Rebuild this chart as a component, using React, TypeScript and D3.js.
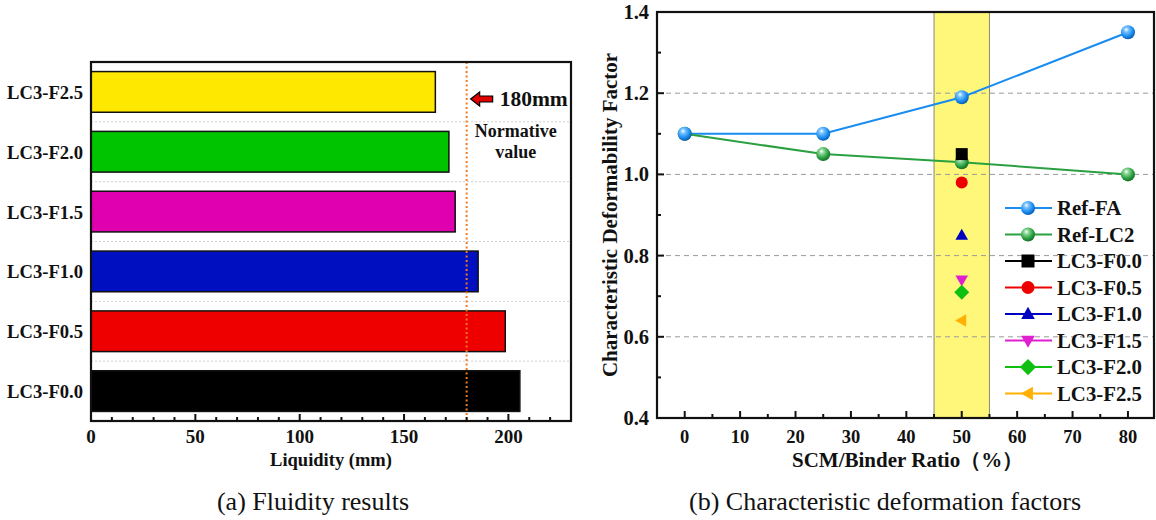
import React from "react";
import * as d3 from "d3";

// ---------- Data: panel (a) ----------
const barCategories = ["LC3-F2.5", "LC3-F2.0", "LC3-F1.5", "LC3-F1.0", "LC3-F0.5", "LC3-F0.0"];
const barValues = [165, 171.5, 174.5, 185.5, 198.5, 205.5];
const barColors = ["#FFE800", "#00C400", "#E000B0", "#0010C0", "#EE0000", "#000000"];
const normativeValue = 180;
const barTicks = [0, 50, 100, 150, 200];

// ---------- Data: panel (b) ----------
const ratioX = [0, 25, 50, 80];
const refFA = [1.1, 1.1, 1.19, 1.35];
const refLC2 = [1.1, 1.05, 1.03, 1.0];
const lc3Names = ["LC3-F0.0", "LC3-F0.5", "LC3-F1.0", "LC3-F1.5", "LC3-F2.0", "LC3-F2.5"];
const lc3Values = [1.05, 0.98, 0.85, 0.74, 0.71, 0.64];
const lc3Colors = ["#000000", "#EE0000", "#0000C0", "#E020D0", "#10C010", "#FFB000"];
const lc3Shapes = ["square", "circle", "triangle", "triangleDown", "diamond", "triangleLeft"];
const lc3Ratio = 50;
const xTicksB = [0, 10, 20, 30, 40, 50, 60, 70, 80];
const yTicksB = [0.4, 0.6, 0.8, 1.0, 1.2, 1.4];

const FONT = "'Liberation Serif', 'Times New Roman', serif";

function markerPath(shape: string, r: number): string {
  switch (shape) {
    case "square":
      return `M${-r},${-r}H${r}V${r}H${-r}Z`;
    case "triangle":
      return `M0,${-r * 1.1}L${r * 1.05},${r * 0.75}L${-r * 1.05},${r * 0.75}Z`;
    case "triangleDown":
      return `M0,${r * 1.1}L${r * 1.05},${-r * 0.75}L${-r * 1.05},${-r * 0.75}Z`;
    case "triangleLeft":
      return `M${-r * 1.1},0L${r * 0.75},${-r * 1.05}L${r * 0.75},${r * 1.05}Z`;
    case "diamond":
      return `M0,${-r * 1.25}L${r * 1.25},0L0,${r * 1.25}L${-r * 1.25},0Z`;
    default:
      return "";
  }
}

function Marker({ shape, color, x, y, r }: { shape: string; color: string; x: number; y: number; r: number }) {
  if (shape === "circle") return <circle cx={x} cy={y} r={r} fill={color} />;
  return <path d={markerPath(shape, r)} transform={`translate(${x},${y})`} fill={color} />;
}

function PanelA() {
  const left = 91, right = 571, top = 62, bottom = 421;
  const x = d3.scaleLinear().domain([0, 230]).range([left, right]);
  const y = d3.scaleBand().domain(barCategories).range([top, bottom]).paddingInner(0.32).paddingOuter(0.16);
  const step = y.step();
  const minorTicks = d3.range(0, 230, 10).filter((v) => v % 50 !== 0);
  const boundaries = barCategories.slice(1).map((c) => (y(c) as number) - (step - y.bandwidth()) / 2);
  const nx = x(normativeValue);
  const arrowY = 99;
  return (
    <g>
      {boundaries.map((b, i) => (
        <line key={i} x1={left} x2={right} y1={b} y2={b} stroke="#d0d0d0" strokeWidth={1} strokeDasharray="2,2" />
      ))}
      {barCategories.map((c, i) => (
        <rect key={c} x={x(0)} y={y(c)} width={x(barValues[i]) - x(0)} height={y.bandwidth()} fill={barColors[i]} stroke="#111" strokeWidth={1.5} />
      ))}
      <line x1={nx} x2={nx} y1={top} y2={bottom} stroke="#F07A20" strokeWidth={2} strokeDasharray="2,2.5" />
      {/* arrow */}
      <path
        d={`M${nx + 4},${arrowY}l9,-7v4h13v6h-13v4z`}
        fill="#E00000"
        stroke="#000"
        strokeWidth={1.2}
      />
      <text x={nx + 33} y={106} fontFamily={FONT} fontWeight="bold" fontSize={21.5} fill="#111">180mm</text>
      <text x={nx + 49} y={137} fontFamily={FONT} fontWeight="bold" fontSize={18} textAnchor="middle" fill="#111">Normative</text>
      <text x={nx + 49} y={158} fontFamily={FONT} fontWeight="bold" fontSize={18} textAnchor="middle" fill="#111">value</text>
      <rect x={left} y={top} width={right - left} height={bottom - top} fill="none" stroke="#111" strokeWidth={2.2} />
      {barTicks.map((t) => (
        <g key={t}>
          <line x1={x(t)} x2={x(t)} y1={bottom} y2={bottom - 7} stroke="#111" strokeWidth={2} />
          <text x={x(t)} y={443} fontFamily={FONT} fontWeight="bold" fontSize={19} textAnchor="middle" fill="#111">{t}</text>
        </g>
      ))}
      {minorTicks.map((t) => (
        <line key={t} x1={x(t)} x2={x(t)} y1={bottom} y2={bottom - 4} stroke="#111" strokeWidth={2} />
      ))}
      {barCategories.map((c) => (
        <text key={c} x={left - 8} y={(y(c) as number) + y.bandwidth() / 2 + 7} fontFamily={FONT} fontWeight="bold" fontSize={18.6} textAnchor="end" fill="#111">{c}</text>
      ))}
      <text x={331} y={466} fontFamily={FONT} fontWeight="bold" fontSize={18.5} textAnchor="middle" fill="#111">Liquidity (mm)</text>
      <text x={313} y={510} fontFamily={FONT} fontSize={26} textAnchor="middle" fill="#111">(a) Fluidity results</text>
    </g>
  );
}

function Sphere({ x, y, r, id }: { x: number; y: number; r: number; id: string }) {
  return <circle cx={x} cy={y} r={r} fill={`url(#${id})`} />;
}

function PanelB() {
  const left = 657, right = 1154, top = 12, bottom = 418;
  const x = d3.scaleLinear().domain([-5, 84.7]).range([left, right]);
  const y = d3.scaleLinear().domain([0.4, 1.4]).range([bottom, top]);
  const line = d3.line<[number, number]>().x((d) => x(d[0])).y((d) => y(d[1]));
  const faPts: [number, number][] = ratioX.map((v, i) => [v, refFA[i]]);
  const lc2Pts: [number, number][] = ratioX.map((v, i) => [v, refLC2[i]]);
  const minorX = d3.range(5, 85, 10);
  const minorY = d3.range(0.5, 1.4, 0.2);
  const legendY0 = 208, legendStep = 26.5, lx1 = 1005, lx2 = 1052, lm = 1028, lt = 1057;
  const legendItems = [
    { name: "Ref-FA", color: "#1A8CF0", kind: "sphere", grad: "gFA" },
    { name: "Ref-LC2", color: "#2AA040", kind: "sphere", grad: "gLC2" },
    ...lc3Names.map((n, i) => ({ name: n, color: lc3Colors[i], kind: lc3Shapes[i], grad: "" })),
  ];
  return (
    <g>
      <defs>
        <radialGradient id="gFA" cx="0.4" cy="0.35" r="0.65" fx="0.38" fy="0.3">
          <stop offset="0" stopColor="#ffffff" />
          <stop offset="0.25" stopColor="#7cc4ff" />
          <stop offset="0.7" stopColor="#1a8cf0" />
          <stop offset="1" stopColor="#0a5fb0" />
        </radialGradient>
        <radialGradient id="gLC2" cx="0.4" cy="0.35" r="0.65" fx="0.38" fy="0.3">
          <stop offset="0" stopColor="#ffffff" />
          <stop offset="0.25" stopColor="#8fd89a" />
          <stop offset="0.7" stopColor="#2aa040" />
          <stop offset="1" stopColor="#16702a" />
        </radialGradient>
      </defs>
      {/* highlight band */}
      <rect x={x(45)} y={top} width={x(55) - x(45)} height={bottom - top} fill="#FFF77A" stroke="#8a8a6a" strokeWidth={1} />
      {[0.6, 0.8, 1.0, 1.2].map((t) => (
        <line key={t} x1={left} x2={right} y1={y(t)} y2={y(t)} stroke="#9a9a9a" strokeWidth={1} strokeDasharray="5,4" />
      ))}
      <path d={line(faPts)!} fill="none" stroke="#1A8CF0" strokeWidth={2} />
      <path d={line(lc2Pts)!} fill="none" stroke="#2AA040" strokeWidth={2} />
      {lc2Pts.map((p, i) => (
        <Sphere key={"l" + i} x={x(p[0])} y={y(p[1])} r={7} id="gLC2" />
      ))}
      {faPts.map((p, i) => (
        <Sphere key={"f" + i} x={x(p[0])} y={y(p[1])} r={7} id="gFA" />
      ))}
      {lc3Values.map((v, i) => (
        <Marker key={lc3Names[i]} shape={lc3Shapes[i]} color={lc3Colors[i]} x={x(lc3Ratio)} y={y(v)} r={6} />
      ))}
      {/* legend */}
      {legendItems.map((it, i) => {
        const ly = legendY0 + i * legendStep;
        return (
          <g key={it.name}>
            <line x1={lx1} x2={lx2} y1={ly} y2={ly} stroke={it.color} strokeWidth={2} />
            {it.kind === "sphere" ? (
              <Sphere x={lm} y={ly} r={7} id={it.grad} />
            ) : (
              <Marker shape={it.kind} color={it.color} x={lm} y={ly} r={6.5} />
            )}
            <text x={lt} y={ly + 7} fontFamily={FONT} fontWeight="bold" fontSize={20.8} fill="#111">{it.name}</text>
          </g>
        );
      })}
      <rect x={left} y={top} width={right - left} height={bottom - top} fill="none" stroke="#111" strokeWidth={2.2} />
      {xTicksB.map((t) => (
        <g key={t}>
          <line x1={x(t)} x2={x(t)} y1={bottom} y2={bottom - 7} stroke="#111" strokeWidth={2} />
          <text x={x(t)} y={443} fontFamily={FONT} fontWeight="bold" fontSize={18.5} textAnchor="middle" fill="#111">{t}</text>
        </g>
      ))}
      {minorX.map((t) => (
        <line key={t} x1={x(t)} x2={x(t)} y1={bottom} y2={bottom - 4} stroke="#111" strokeWidth={2} />
      ))}
      {yTicksB.map((t) => (
        <g key={t}>
          <line x1={left} x2={left + 7} y1={y(t)} y2={y(t)} stroke="#111" strokeWidth={2} />
          <text x={649} y={y(t) + 7} fontFamily={FONT} fontWeight="bold" fontSize={20.5} textAnchor="end" fill="#111">{t.toFixed(1)}</text>
        </g>
      ))}
      {minorY.map((t) => (
        <line key={t} x1={left} x2={left + 4} y1={y(t)} y2={y(t)} stroke="#111" strokeWidth={2} />
      ))}
      <text x={792} y={467} fontFamily={FONT} fontWeight="bold" fontSize={21} fill="#111">SCM/Binder Ratio（%）</text>
      <text transform={`translate(617,${(top + bottom) / 2}) rotate(-90)`} fontFamily={FONT} fontWeight="bold" fontSize={21} textAnchor="middle" fill="#111">Characteristic Deformability Factor</text>
      <text x={885} y={510} fontFamily={FONT} fontSize={26} textAnchor="middle" fill="#111">(b) Characteristic deformation factors</text>
    </g>
  );
}

export default function App() {
  return (
    <div style={{ position: "absolute", left: 0, top: 0 }}>
      <svg width={1156} height={520} style={{ display: "block", background: "#fff" }}>
        <PanelA />
        <PanelB />
      </svg>
    </div>
  );
}
